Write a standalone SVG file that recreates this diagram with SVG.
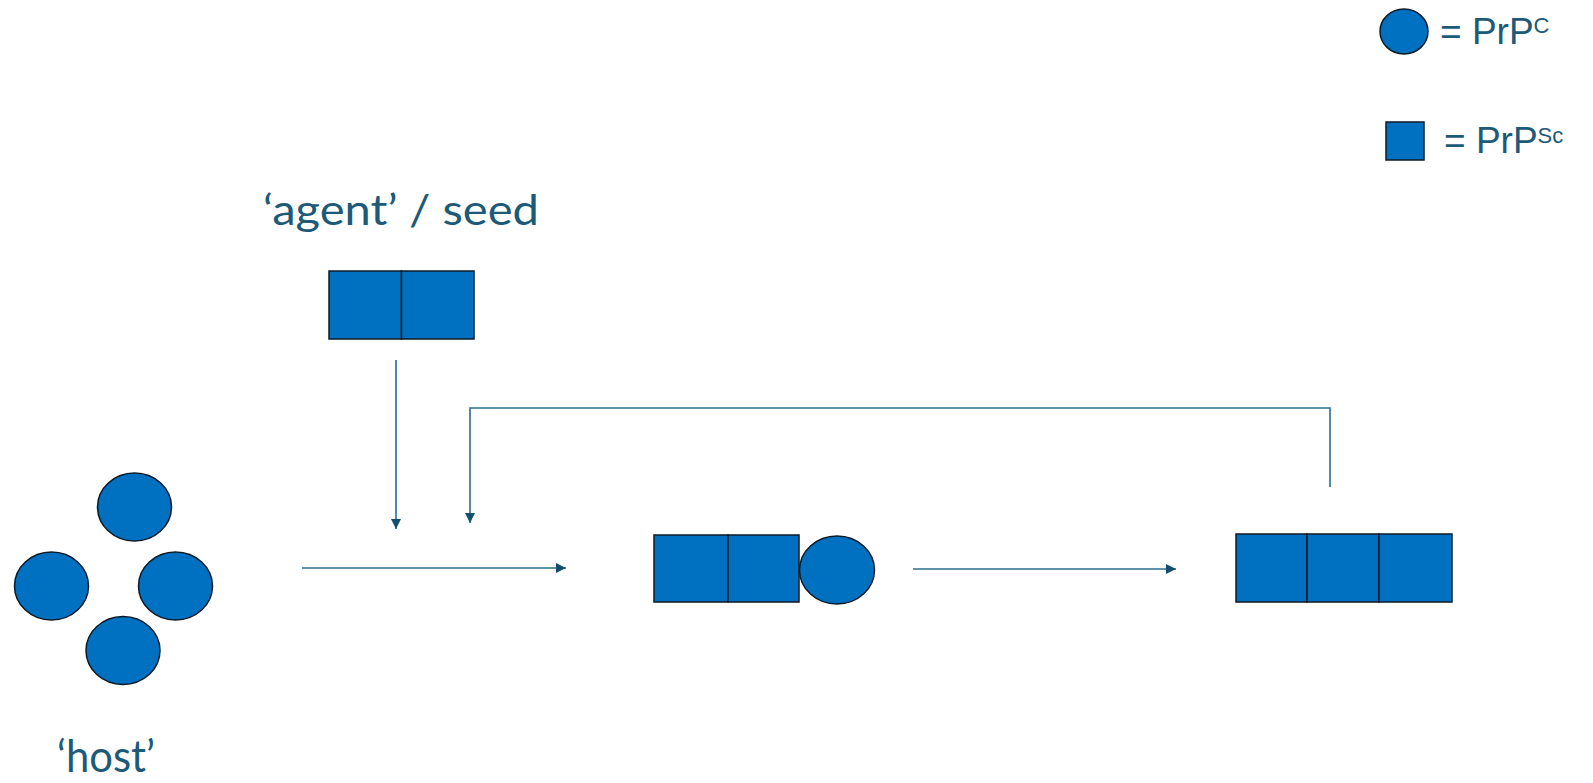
<svg xmlns="http://www.w3.org/2000/svg" width="1593" height="783" viewBox="0 0 1593 783">
  <style>
    .prp { fill: #0070C0; stroke: #0d1a26; stroke-width: 1.5; }
    .lbl { fill: #1C5A78; font-family: Lato, "Open Sans", sans-serif; }
    .leg { fill: #1C5A78; font-family: "Liberation Sans", Arial, sans-serif; }
    .conn { fill: none; stroke: #2A6F8C; stroke-width: 1.6; }
  </style>
  <defs>
    <marker id="head" markerUnits="userSpaceOnUse" markerWidth="11" markerHeight="11" refX="10" refY="5" orient="auto">
      <path d="M0,0 L10,5 L0,10 z" fill="#124F6E"/>
    </marker>
  </defs>
  <rect width="1593" height="783" fill="#ffffff"/>

  <!-- legend -->
  <g id="legend-circle">
    <ellipse class="prp" cx="1404" cy="31.5" rx="24" ry="22.5"/>
    <text class="leg" x="1440" y="44" font-size="37">= PrP<tspan font-size="22" dy="-11">C</tspan></text>
  </g>
  <g id="legend-square">
    <rect class="prp" x="1386" y="122" width="38" height="38"/>
    <text class="leg" x="1444" y="153" font-size="37">= PrP<tspan font-size="22" dy="-10">Sc</tspan></text>
  </g>

  <!-- agent / seed -->
  <g id="agent">
    <text class="lbl" x="263" y="225" font-size="42" textLength="276" lengthAdjust="spacingAndGlyphs">‘agent’ / seed</text>
    <rect class="prp" x="329" y="271" width="72.5" height="68"/>
    <rect class="prp" x="401.5" y="271" width="72.5" height="68"/>
  </g>

  <!-- host -->
  <g id="host">
    <ellipse class="prp" cx="134.5" cy="507" rx="37" ry="34"/>
    <ellipse class="prp" cx="51.5" cy="586" rx="37" ry="34"/>
    <ellipse class="prp" cx="175.5" cy="586" rx="37" ry="34"/>
    <ellipse class="prp" cx="123" cy="650.5" rx="37" ry="34"/>
    <text class="lbl" x="57" y="772" font-size="44" textLength="98" lengthAdjust="spacingAndGlyphs">‘host’</text>
  </g>

  <!-- intermediate: two PrPSc + one PrPC -->
  <g id="complex">
    <rect class="prp" x="654" y="535" width="74" height="67"/>
    <rect class="prp" x="728" y="535" width="71" height="67"/>
    <ellipse class="prp" cx="837" cy="570" rx="37.5" ry="34"/>
  </g>

  <!-- product: three PrPSc -->
  <g id="product">
    <rect class="prp" x="1236" y="534" width="71" height="68"/>
    <rect class="prp" x="1307" y="534" width="72" height="68"/>
    <rect class="prp" x="1379" y="534" width="73" height="68"/>
  </g>

  <!-- connectors -->
  <g id="connectors">
    <line class="conn" x1="396" y1="360" x2="396" y2="529" marker-end="url(#head)"/>
    <polyline class="conn" points="1330,487 1330,408 470,408 470,523" marker-end="url(#head)"/>
    <line class="conn" x1="302" y1="568" x2="566" y2="568" marker-end="url(#head)"/>
    <line class="conn" x1="913" y1="569" x2="1176" y2="569" marker-end="url(#head)"/>
  </g>
</svg>
